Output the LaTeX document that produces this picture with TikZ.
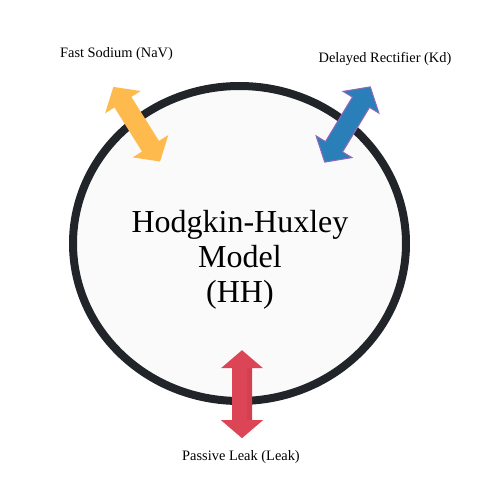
\documentclass[tikz,border=0pt]{standalone}
\usepackage{fontspec}
\setmainfont{Liberation Serif}
\usetikzlibrary{shapes.geometric}
\definecolor{ringc}{HTML}{212529}
\definecolor{cellfill}{HTML}{FAFAFA}
\definecolor{naorange}{HTML}{FEBA4D}
\definecolor{kblue}{HTML}{2B7FB8}
\definecolor{kedge}{HTML}{9467BD}
\definecolor{leakred}{HTML}{DC4556}
\definecolor{leakdark}{HTML}{D24052}
\tikzset{
  chanarrow/.pic={
    \path[pic actions] (44,0) -- (26,21) -- (26,10) -- (-26,10) -- (-26,21)
      -- (-44,0) -- (-26,-21) -- (-26,-10) -- (26,-10) -- (26,-21) -- cycle;
  },
  chanlabel/.style={font=\fontsize{14.4}{17}\selectfont, anchor=base, inner sep=0},
}
\begin{document}
\begin{tikzpicture}[x=1pt,y=1pt]
\useasboundingbox (0,0) rectangle (480,480);
\node (cell) [ellipse, draw=ringc, line width=8pt, fill=cellfill,
  minimum width=333pt, minimum height=315pt, inner sep=0] at (239.5,236.5) {};
\node (title) [font=\fontsize{32}{35}\selectfont, align=center, inner sep=0]
  at (240,220.5) {Hodgkin-Huxley\\Model\\(HH)};
% channels
\pic (na) [fill=naorange, rotate=122] at (136.7,355.8) {chanarrow};
\pic (kd) [fill=kblue, draw=kedge, line width=1pt, rotate=58.8] at (347.5,355.5) {chanarrow};
\pic (leak) [fill=leakred, rotate=90] at (242,85.8) {chanarrow};
\fill[leakdark, shift={(242,85.8)}, rotate=90] (26,-5) rectangle (-26,-10);
% labels
\node (nalabel) [chanlabel] at (116.5,422.7) {Fast Sodium (NaV)};
\node (kdlabel) [chanlabel] at (385,417.7) {Delayed Rectifier (Kd)};
\node (leaklabel) [chanlabel] at (241,19.3) {Passive Leak (Leak)};
\end{tikzpicture}
\end{document}
